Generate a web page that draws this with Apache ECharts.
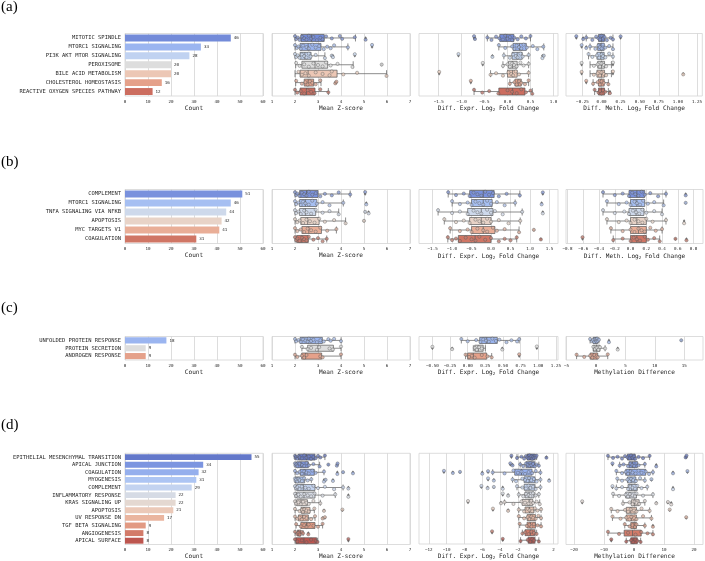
<!DOCTYPE html>
<html>
<head>
<meta charset="utf-8">
<script src="https://cdn.jsdelivr.net/npm/echarts@6/dist/echarts.min.js"></script>
<style>
  html, body { margin: 0; padding: 0; background: #fff; }
  #chart { width: 705px; height: 561px; }
</style>
</head>
<body>
<div id="chart"></div>
<script>
// ---------- panel (a) ----------
const catsA = ["MITOTIC SPINDLE", "MTORC1 SIGNALING", "PI3K AKT MTOR SIGNALING", "PEROXISOME",
  "BILE ACID METABOLISM", "CHOLESTEROL HOMEOSTASIS", "REACTIVE OXYGEN SPECIES PATHWAY"];
const countsA = [46, 33, 28, 20, 20, 16, 12];
const zBoxA = [[2.0, 2.26, 2.72, 3.27, 4.63], [2.0, 2.22, 2.57, 3.13, 4.3], [2.0, 2.22, 2.43, 2.7, 3.3],
  [2.03, 2.3, 2.87, 3.42, 4.53], [2.0, 2.22, 2.57, 3.83, 5.98], [2.03, 2.4, 2.57, 2.81, 3.13], [2.0, 2.22, 2.5, 2.87, 3.45]];
const zOutA = [[5.07], [5.35], [3.6, 3.65, 4.6], [5.77], [], [3.75, 3.8], []];
const zPtsA = [
  [2.0, 2.05, 2.12, 2.2, 2.3, 2.4, 2.5, 2.6, 2.7, 2.8, 2.95, 3.1, 3.2, 3.35, 3.6, 3.95, 4.05, 4.6, 5.07],
  [2.0, 2.08, 2.15, 2.25, 2.35, 2.5, 2.6, 2.75, 2.9, 3.05, 3.25, 3.4, 3.55, 3.7, 4.3, 5.35],
  [2.0, 2.05, 2.12, 2.2, 2.3, 2.4, 2.5, 2.6, 2.68, 2.9, 3.3, 3.6, 3.65, 4.6],
  [2.05, 2.2, 2.4, 2.6, 2.8, 3.0, 3.2, 3.35, 3.55, 3.85, 4.5, 5.77],
  [2.15, 2.3, 2.45, 2.6, 2.9, 3.2, 3.5, 3.6, 4.1, 4.7, 5.98],
  [2.05, 2.3, 2.45, 2.55, 2.65, 2.75, 2.9, 3.1, 3.75, 3.8],
  [2.0, 2.1, 2.25, 2.4, 2.55, 2.7, 2.85, 3.1, 3.45]];
const exBoxA = [[-0.44, -0.17, -0.03, 0.14, 0.5], [-0.19, 0.12, 0.26, 0.41, 0.79], [-0.08, 0.1, 0.21, 0.32, 0.46],
  [-0.1, 0.02, 0.11, 0.21, 0.46], [-0.37, 0.0, 0.11, 0.21, 0.46], [0.05, 0.16, 0.23, 0.3, 0.46], [-0.73, -0.19, 0.11, 0.38, 0.54]];
const exOutA = [[-0.73, -0.71], [], [-1.07, -0.33, 0.76, 0.79], [-0.54], [-1.49], [-0.8], []];
const exPtsA = [
  [-0.73, -0.71, -0.44, -0.35, -0.25, -0.18, -0.1, -0.05, 0.0, 0.05, 0.1, 0.15, 0.22, 0.3, 0.4, 0.5],
  [-0.19, -0.05, 0.1, 0.15, 0.2, 0.25, 0.3, 0.35, 0.42, 0.55, 0.65, 0.78],
  [-1.07, -0.33, -0.08, 0.05, 0.12, 0.18, 0.22, 0.28, 0.33, 0.46, 0.76, 0.79],
  [-0.54, -0.1, 0.0, 0.05, 0.1, 0.14, 0.2, 0.28, 0.35, 0.46],
  [-1.49, -0.37, -0.25, -0.1, 0.02, 0.08, 0.12, 0.18, 0.25, 0.46],
  [-0.8, 0.05, 0.15, 0.2, 0.25, 0.3, 0.38, 0.46],
  [-0.73, -0.55, -0.4, -0.2, 0.0, 0.1, 0.2, 0.3, 0.4, 0.5, 0.54]];
const meBoxA = [[-0.2, -0.04, 0.0, 0.04, 0.15], [-0.15, -0.05, -0.01, 0.035, 0.15], [-0.17, -0.06, -0.01, 0.035, 0.15],
  [-0.15, -0.05, 0.0, 0.04, 0.13], [-0.15, -0.06, 0.0, 0.04, 0.13], [-0.11, -0.04, -0.01, 0.035, 0.09], [-0.09, -0.04, 0.0, 0.04, 0.09]];
const meOutA = [[-0.33, -0.24, 0.25], [-0.26, -0.2], [], [-0.26, 0.15], [-0.26, 0.15, 1.07], [-0.2], [0.11]];
const mePtsA = [
  [-0.33, -0.24, -0.2, -0.12, -0.07, -0.04, -0.02, 0.0, 0.02, 0.04, 0.07, 0.12, 0.15, 0.25],
  [-0.26, -0.2, -0.15, -0.08, -0.04, -0.02, 0.0, 0.02, 0.05, 0.1, 0.15],
  [-0.17, -0.12, -0.06, -0.03, 0.0, 0.02, 0.05, 0.1, 0.15],
  [-0.26, -0.1, -0.05, -0.02, 0.0, 0.03, 0.06, 0.15],
  [-0.26, -0.1, -0.05, -0.02, 0.0, 0.03, 0.06, 0.15, 1.07],
  [-0.2, -0.11, -0.05, -0.02, 0.0, 0.03, 0.09],
  [-0.09, -0.04, -0.02, 0.0, 0.02, 0.05, 0.11]];
const exTicksA = [-1.5, -1.0, -0.5, 0.0, 0.5, 1.0];
const meTicksA = [-0.25, 0.0, 0.25, 0.5, 0.75, 1.0, 1.25];

// ---------- panel (b) ----------
const catsB = ["COMPLEMENT", "MTORC1 SIGNALING", "TNFA SIGNALING VIA NFKB", "APOPTOSIS", "MYC TARGETS V1", "COAGULATION"];
const countsB = [51, 46, 44, 42, 41, 31];
const zBoxB = [[2.0, 2.2, 2.5, 3.0, 4.4], [2.0, 2.2, 2.45, 2.95, 4.1], [2.0, 2.2, 2.45, 2.9, 3.9],
  [2.0, 2.25, 2.55, 3.05, 4.2], [2.0, 2.3, 2.6, 3.15, 3.8], [2.0, 2.07, 2.3, 2.58, 3.38]];
const zOutB = [[5.05], [5.1], [5.05, 5.2], [5.0], [], []];
const zPtsB = [
  [2.0, 2.05, 2.1, 2.2, 2.3, 2.4, 2.5, 2.6, 2.75, 2.9, 3.1, 3.3, 3.6, 3.9, 4.4, 5.05],
  [2.0, 2.05, 2.15, 2.25, 2.35, 2.45, 2.6, 2.75, 2.95, 3.2, 3.5, 4.1, 5.1],
  [2.0, 2.05, 2.15, 2.25, 2.4, 2.5, 2.7, 2.9, 3.2, 3.5, 3.9, 5.05, 5.2],
  [2.0, 2.1, 2.2, 2.35, 2.5, 2.65, 2.85, 3.05, 3.3, 3.7, 4.2, 5.0],
  [2.0, 2.1, 2.25, 2.4, 2.55, 2.7, 2.9, 3.1, 3.4, 3.8],
  [2.0, 2.05, 2.1, 2.2, 2.3, 2.4, 2.5, 2.6, 2.8, 3.0, 3.2, 3.38]];
const exBoxB = [[-1.1, -0.55, -0.2, 0.08, 0.74], [-1.0, -0.5, -0.2, 0.03, 0.62], [-1.36, -0.6, -0.25, 0.05, 0.8],
  [-1.2, -0.55, -0.25, 0.0, 0.75], [-1.05, -0.5, -0.2, 0.1, 0.72], [-1.11, -0.84, -0.41, 0.0, 0.66]];
const exOutB = [[1.33], [1.3], [1.33], [], [1.1], [1.28]];
const exPtsB = [
  [-1.1, -0.9, -0.7, -0.55, -0.45, -0.35, -0.25, -0.15, -0.05, 0.05, 0.2, 0.4, 0.74, 1.33],
  [-1.0, -0.8, -0.6, -0.5, -0.4, -0.3, -0.2, -0.1, 0.0, 0.15, 0.35, 0.62, 1.3],
  [-1.36, -1.0, -0.8, -0.6, -0.45, -0.35, -0.25, -0.1, 0.0, 0.1, 0.3, 0.8, 1.33],
  [-1.2, -0.9, -0.7, -0.55, -0.4, -0.3, -0.2, -0.1, 0.0, 0.2, 0.45, 0.75],
  [-1.05, -0.8, -0.6, -0.5, -0.35, -0.2, -0.1, 0.05, 0.15, 0.35, 0.72, 1.1],
  [-1.11, -1.0, -0.9, -0.8, -0.65, -0.5, -0.4, -0.3, -0.15, 0.0, 0.2, 0.35, 0.5, 0.66, 1.28]];
const meBoxB = [[-0.35, -0.02, 0.08, 0.18, 0.45], [-0.3, 0.0, 0.08, 0.18, 0.42], [-0.35, -0.02, 0.07, 0.17, 0.4],
  [-0.3, 0.0, 0.08, 0.2, 0.45], [-0.25, 0.0, 0.1, 0.2, 0.4], [-0.22, 0.0, 0.08, 0.2, 0.37]];
const meOutB = [[0.7], [0.7], [], [0.68], [], [-0.61, 0.57, 0.71]];
const mePtsB = [
  [-0.35, -0.2, -0.1, -0.02, 0.02, 0.06, 0.1, 0.14, 0.18, 0.25, 0.35, 0.45, 0.7],
  [-0.3, -0.15, -0.05, 0.0, 0.05, 0.08, 0.12, 0.16, 0.22, 0.3, 0.42, 0.7],
  [-0.35, -0.2, -0.08, -0.02, 0.03, 0.07, 0.11, 0.15, 0.2, 0.3, 0.4],
  [-0.3, -0.15, -0.05, 0.0, 0.05, 0.1, 0.15, 0.2, 0.28, 0.45, 0.68],
  [-0.25, -0.1, 0.0, 0.05, 0.1, 0.14, 0.18, 0.25, 0.32, 0.4],
  [-0.61, -0.22, -0.1, 0.0, 0.04, 0.08, 0.12, 0.18, 0.22, 0.3, 0.37, 0.57, 0.71]];
const exTicksB = [-1.5, -1.0, -0.5, 0.0, 0.5, 1.0, 1.5];
const meTicksB = [-0.8, -0.6, -0.4, -0.2, 0.0, 0.2, 0.4, 0.6, 0.8];

// ---------- panel (c) ----------
const catsC = ["UNFOLDED PROTEIN RESPONSE", "PROTEIN SECRETION", "ANDROGEN RESPONSE"];
const countsC = [18, 9, 9];
const zBoxC = [[2.0, 2.22, 2.57, 3.19, 4.0], [2.3, 2.55, 3.0, 3.67, 4.0], [2.0, 2.29, 2.46, 3.16, 4.0]];
const zOutC = [[], [], []];
const zPtsC = [
  [2.0, 2.05, 2.15, 2.25, 2.35, 2.45, 2.55, 2.6, 2.7, 2.8, 2.95, 3.1, 3.25, 3.45, 3.55, 3.7, 4.0],
  [2.3, 2.55, 2.7, 2.95, 3.05, 3.5, 3.65, 4.0],
  [2.0, 2.1, 2.3, 2.4, 2.5, 3.1, 3.2, 4.0]];
const exBoxC = [[-0.09, 0.17, 0.27, 0.42, 0.73], [0.08, 0.1, 0.15, 0.22, 0.25], [-0.03, 0.0, 0.08, 0.27, 0.34]];
const exOutC = [[], [-0.5, -0.22, 0.49, 0.98], [0.73]];
const exPtsC = [
  [-0.09, 0.0, 0.12, 0.18, 0.22, 0.26, 0.3, 0.35, 0.4, 0.45, 0.55, 0.62, 0.7, 0.73],
  [-0.5, -0.22, 0.1, 0.13, 0.16, 0.2, 0.49, 0.98],
  [-0.03, 0.02, 0.06, 0.1, 0.2, 0.28, 0.34, 0.73]];
const meBoxC = [[-1.0, -0.5, -0.1, 0.3, 0.5], [-0.45, -0.45, 0.1, 0.68, 1.55], [-3.3, -1.0, -0.45, 0.3, 2.0]];
const meOutC = [[2.2, 14.5], [3.7], []];
const mePtsC = [
  [-1.0, -0.7, -0.5, -0.3, -0.1, 0.0, 0.1, 0.2, 0.3, 0.5, 2.2, 14.5],
  [-0.45, -0.2, 0.1, 0.4, 0.68, 1.55, 3.7],
  [-3.3, -2.0, -1.0, -0.6, -0.3, 0.1, 0.3, 2.0]];
const exTicksC = [-0.5, -0.25, 0.0, 0.25, 0.5, 0.75, 1.0, 1.25];
const meTicksC = [-5, 0, 5, 10, 15];

// ---------- panel (d) ----------
const catsD = ["EPITHELIAL MESENCHYMAL TRANSITION", "APICAL JUNCTION", "COAGULATION", "MYOGENESIS", "COMPLEMENT",
  "INFLAMMATORY RESPONSE", "KRAS SIGNALING UP", "APOPTOSIS", "UV RESPONSE DN", "TGF BETA SIGNALING",
  "ANGIOGENESIS", "APICAL SURFACE"];
const countsD = [55, 34, 32, 31, 29, 22, 22, 21, 17, 9, 8, 8];
const zBoxD = [[2.0, 2.15, 2.5, 2.87, 3.3], [2.0, 2.07, 2.26, 2.58, 3.07], [2.0, 2.22, 2.43, 2.84, 3.26],
  [2.0, 2.01, 2.13, 2.42, 2.71], [2.0, 2.07, 2.36, 2.87, 4.09], [2.0, 2.07, 2.39, 2.87, 3.75],
  [2.0, 2.07, 2.26, 2.54, 3.1], [2.0, 2.26, 2.39, 2.65, 2.84], [2.0, 2.15, 2.32, 2.58, 2.87],
  [2.05, 2.25, 2.5, 2.87, 3.2], [2.0, 2.1, 2.15, 2.26, 2.35], [2.0, 2.04, 2.39, 2.94, 2.98]];
const zOutD = [[], [3.45, 3.82, 3.85], [3.84, 4.09, 4.52], [3.26, 3.33, 3.65], [4.32], [4.32], [], [3.26, 4.06],
  [3.2, 3.3], [], [2.58], [4.32]];
const zPtsD = [
  [2.0, 2.02, 2.05, 2.1, 2.15, 2.2, 2.3, 2.4, 2.5, 2.6, 2.7, 2.8, 2.9, 3.0, 3.1, 3.3],
  [2.0, 2.02, 2.06, 2.1, 2.2, 2.3, 2.4, 2.5, 2.6, 2.8, 3.07, 3.45, 3.82, 3.85],
  [2.0, 2.1, 2.2, 2.3, 2.4, 2.5, 2.6, 2.75, 2.9, 3.26, 3.84, 4.09, 4.52],
  [2.0, 2.02, 2.05, 2.1, 2.15, 2.2, 2.3, 2.4, 2.55, 2.71, 3.26, 3.33, 3.65],
  [2.0, 2.05, 2.1, 2.2, 2.3, 2.45, 2.6, 2.8, 3.0, 3.3, 3.7, 4.09, 4.32],
  [2.0, 2.05, 2.15, 2.25, 2.4, 2.55, 2.7, 2.85, 3.2, 3.75, 4.32],
  [2.0, 2.05, 2.15, 2.25, 2.35, 2.5, 2.6, 2.8, 3.1],
  [2.0, 2.2, 2.3, 2.35, 2.4, 2.5, 2.6, 2.84, 3.26, 4.06],
  [2.0, 2.1, 2.2, 2.3, 2.4, 2.5, 2.7, 2.87, 3.2, 3.3],
  [2.05, 2.25, 2.4, 2.5, 2.6, 2.8, 3.0, 3.2],
  [2.0, 2.1, 2.15, 2.2, 2.3, 2.35, 2.58],
  [2.0, 2.1, 2.3, 2.5, 2.7, 2.9, 2.98, 4.32]];
const exBoxD = [[-2.1, -0.97, -0.6, -0.11, 0.1], [-1.74, -1.1, -0.6, -0.1, 0.35], [-4.83, -2.36, -1.6, -0.41, 0.53],
  [-2.6, -1.3, -0.75, -0.1, 0.53], [-2.1, -1.3, -0.75, -0.1, 0.53], [-1.9, -1.2, -0.75, -0.2, 0.35],
  [-3.5, -1.53, -0.75, -0.34, 0.45], [-1.9, -1.2, -0.7, -0.2, 0.6], [-1.9, -0.97, -0.6, -0.04, 0.6],
  [-1.8, -0.97, -0.6, -0.04, 0.6], [-1.5, -1.2, -0.6, -0.1, 0.1], [-1.7, -0.86, -0.45, -0.1, 0.35]];
const exOutD = [[-2.73, 1.2], [-2.85, -2.6], [-10.3, -9.3, -8.5, -6.0, -5.35], [-5.35, -4.7, 1.5],
  [-6.1, -5.4, -4.7, -3.7], [-3.7, -3.1], [-7.6, -3.9], [-4.8, -3.1], [], [], [-4.9], [-3.7]];
const exPtsD = [
  [-2.73, -2.1, -1.6, -1.3, -1.1, -0.95, -0.8, -0.7, -0.6, -0.5, -0.4, -0.3, -0.2, -0.1, 0.0, 0.1, 1.2],
  [-2.85, -2.6, -1.74, -1.4, -1.1, -0.9, -0.7, -0.6, -0.5, -0.3, -0.1, 0.1, 0.35],
  [-10.3, -9.3, -8.5, -6.0, -5.35, -4.83, -3.5, -2.5, -2.0, -1.6, -1.2, -0.8, -0.4, 0.0, 0.53],
  [-5.35, -4.7, -2.6, -2.2, -1.5, -1.2, -0.9, -0.75, -0.5, -0.2, 0.1, 0.53, 1.5],
  [-6.1, -5.4, -4.7, -3.7, -2.1, -1.5, -1.1, -0.8, -0.6, -0.3, 0.0, 0.53],
  [-3.7, -3.1, -1.9, -1.4, -1.1, -0.8, -0.6, -0.3, 0.0, 0.35],
  [-7.6, -3.9, -3.5, -2.5, -1.6, -1.2, -0.8, -0.5, -0.3, 0.1, 0.45],
  [-4.8, -3.1, -1.9, -1.3, -0.9, -0.7, -0.4, -0.1, 0.2, 0.6],
  [-1.9, -1.3, -0.9, -0.7, -0.5, -0.3, 0.0, 0.3, 0.6],
  [-1.8, -1.0, -0.7, -0.5, -0.2, 0.2, 0.6],
  [-4.9, -1.5, -1.2, -0.8, -0.5, -0.2, 0.1],
  [-3.7, -1.7, -0.9, -0.6, -0.4, -0.2, 0.35]];
const meBoxD = [[-8.7, -2.2, -0.9, 0.4, 5.2], [-4.8, -1.7, -0.5, 1.1, 3.6], [-5.9, -2.8, -1.4, 3.9, 6.3],
  [-5.6, -2.2, -1.0, 0.6, 3.6], [-5.9, -2.0, -0.8, 1.1, 4.4], [-7.0, -2.8, -1.4, 0.8, 6.3],
  [-3.7, -0.9, 0.2, 1.7, 3.6], [-7.6, -2.6, -1.1, 0.8, 5.2], [-7.2, -2.6, -0.9, 0.8, 5.8],
  [-3.1, -1.1, 0.0, 0.8, 3.6], [-8.7, -3.3, -0.5, 2.4, 6.3], [-2.6, -1.1, -0.3, 1.1, 2.2]];
const meOutD = [[17.2, 17.5], [-7.2, 7.4], [13.0, 17.8], [5.8], [-7.2, 13.0], [], [-17.3, 7.4, 11.3, 12.4],
  [11.9], [17.4], [6.3], [], [-7.6]];
const mePtsD = [
  [-8.7, -7.0, -5.5, -4.0, -3.0, -2.2, -1.5, -1.0, -0.5, 0.0, 0.4, 1.5, 3.0, 5.2, 17.2, 17.5],
  [-7.2, -4.8, -3.5, -2.0, -1.2, -0.6, 0.0, 0.8, 1.5, 3.6, 7.4],
  [-5.9, -4.0, -2.8, -2.0, -1.2, -0.5, 0.5, 1.5, 2.5, 3.9, 5.0, 6.3, 13.0, 17.8],
  [-5.6, -4.0, -2.2, -1.5, -1.0, -0.3, 0.6, 2.0, 3.6, 5.8],
  [-7.2, -5.9, -4.0, -2.0, -1.2, -0.5, 0.3, 1.1, 2.5, 4.4, 13.0],
  [-7.0, -5.0, -2.8, -2.0, -1.4, -0.5, 0.3, 0.8, 3.0, 6.3],
  [-17.3, -3.7, -1.5, -0.5, 0.2, 0.8, 1.7, 3.6, 7.4, 11.3, 12.4],
  [-7.6, -5.5, -3.0, -2.0, -1.1, 0.0, 0.8, 2.5, 5.2, 11.9],
  [-7.2, -4.5, -2.6, -1.5, -0.9, 0.0, 0.8, 3.0, 5.8, 17.4],
  [-3.1, -1.5, -0.5, 0.3, 0.8, 3.6, 6.3],
  [-8.7, -5.0, -2.0, 0.5, 2.4, 4.5, 6.3],
  [-7.6, -2.6, -1.0, -0.3, 0.5, 1.1, 2.2]];
const exTicksD = [-12, -10, -8, -6, -4, -2, 0, 2];
const meTicksD = [-20, -10, 0, 10, 20];

const zTicks = [1, 2, 3, 4, 5, 6, 7];
const panelLabels = ["(a)", "(b)", "(c)", "(d)"];

// ---------- styling / layout ----------
const MONO = "DejaVu Sans Mono";
const TXT = "#262626";
const GRIDC = "#d4d4d4";
const EDGE = "#5a5a5a";
// strip jitter offsets (fraction of a row)
const JIT = [-0.2, 0.12, -0.05, 0.22, -0.15, 0.03, 0.18, -0.25, 0.08, -0.1, 0.25, -0.02, 0.15, -0.18, 0.05, -0.22, 0.1, -0.08, 0.2];

// matplotlib coolwarm lookup (33 steps)
const CW = [[59,76,192],[68,90,204],[77,104,215],[87,117,225],[98,130,234],[108,142,241],[119,154,247],
  [130,165,251],[141,176,254],[152,185,255],[163,194,255],[174,201,253],[184,208,249],[194,213,244],
  [204,217,238],[213,219,230],[221,221,221],[229,216,209],[236,211,197],[241,204,184],[245,196,172],
  [247,187,160],[247,177,148],[247,166,135],[244,154,123],[241,141,111],[236,127,99],[229,112,88],
  [222,96,77],[213,80,66],[203,62,56],[192,40,47],[180,4,38]];

function coolwarm(t) {
  const p = t * 32, i = Math.min(31, Math.floor(p)), f = p - i;
  return CW[i].map((v, k) => v + (CW[i + 1][k] - v) * f);
}
function rgb(c) {
  return "rgb(" + c.map((v) => Math.round(v)).join(",") + ")";
}
function desat(c, s) {
  const l = (Math.max(...c) + Math.min(...c)) / 2;
  return c.map((v) => l + (v - l) * s);
}
function palette(n) {
  const out = [];
  for (let i = 1; i <= n; i++) out.push(coolwarm(i / (n + 1)));
  return out;
}
function fmt(dec) {
  return function (v) {
    const s = Math.abs(v).toFixed(dec);
    return (v < -1e-9 ? "\u2212" : "") + s;
  };
}

const panels = [
  { cats: catsA, counts: countsA, top: 33.5, bottom: 96, labelTop: 0,
    z: [zBoxA, zOutA, zPtsA], ex: [exBoxA, exOutA, exPtsA], me: [meBoxA, meOutA, mePtsA],
    exAx: { min: -1.93, max: 1.1, ticks: exTicksA, dec: 1 },
    meAx: { min: -0.465, max: 1.32, ticks: meTicksA, dec: 2 },
    meName: "Diff. Meth. Log{sub|2} Fold Change" },
  { cats: catsB, counts: countsB, top: 189.5, bottom: 243.5, labelTop: 155,
    z: [zBoxB, zOutB, zPtsB], ex: [exBoxB, exOutB, exPtsB], me: [meBoxB, meOutB, mePtsB],
    exAx: { min: -1.85, max: 1.72, ticks: exTicksB, dec: 1 },
    meAx: { min: -0.82, max: 0.92, ticks: meTicksB, dec: 1 },
    meName: "Diff. Meth. Log{sub|2} Fold Change" },
  { cats: catsC, counts: countsC, top: 336.5, bottom: 360, labelTop: 301,
    z: [zBoxC, zOutC, zPtsC], ex: [exBoxC, exOutC, exPtsC], me: [meBoxC, meOutC, mePtsC],
    exAx: { min: -0.69, max: 1.28, ticks: exTicksC, dec: 2 },
    meAx: { min: -5.1, max: 18.2, ticks: meTicksC, dec: 0 },
    meName: "Methylation Difference" },
  { cats: catsD, counts: countsD, top: 453.3, bottom: 544.5, labelTop: 418,
    z: [zBoxD, zOutD, zPtsD], ex: [exBoxD, exOutD, exPtsD], me: [meBoxD, meOutD, mePtsD],
    exAx: { min: -13.1, max: 2.5, ticks: exTicksD, dec: 0 },
    meAx: { min: -22.7, max: 23, ticks: meTicksD, dec: 0 },
    meName: "Methylation Difference" },
];

const BOXX = [[272, 410], [419, 558], [566, 703]];

const grids = [], xAxes = [], yAxes = [], series = [], graphics = [];

const nameStyle = {
  fontSize: 6.1, fontFamily: MONO, color: TXT,
  rich: { sub: { fontSize: 4.2, fontFamily: MONO, color: TXT, padding: [3, 0, 0, 0] } },
};
const tickLabel = (ticks, dec) => ({
  customValues: ticks, formatter: fmt(dec), fontSize: 4.2, fontFamily: MONO, color: TXT, margin: 3.5,
});

function addGrid(l, r, top, bottom) {
  grids.push({ left: l, top: top, width: r - l, height: bottom - top, show: true,
    borderColor: GRIDC, borderWidth: 0.8, backgroundColor: "#fff" });
  return grids.length - 1;
}

panels.forEach(function (P, pi) {
  const n = P.cats.length;
  const rowH = (P.bottom - P.top) / n;
  const pal = palette(n);
  const fill = pal.map((c) => rgb(desat(c, 0.75)));
  const dots = pal.map((c) => rgb(desat(c, 0.55)));

  graphics.push({ type: "text", left: 1, top: P.labelTop,
    style: { text: panelLabels[pi], font: "15px 'Liberation Serif'", fill: "#000" } });

  // bar chart of counts
  const g = addGrid(125, 263, P.top, P.bottom);
  xAxes.push({ gridIndex: g, type: "value", min: 0, max: 60, interval: 10,
    axisLine: { show: false }, axisTick: { show: false },
    axisLabel: { fontSize: 4.2, fontFamily: MONO, color: TXT, margin: 3.5 },
    splitLine: { show: true, lineStyle: { color: GRIDC, width: 0.8 } },
    name: "Count", nameLocation: "middle", nameGap: 9, nameTextStyle: nameStyle });
  yAxes.push({ gridIndex: g, type: "category", inverse: true, data: P.cats,
    axisLine: { show: false }, axisTick: { show: false },
    axisLabel: { fontSize: 5.45, fontFamily: MONO, color: TXT, margin: 4 } });
  series.push({ type: "bar", xAxisIndex: xAxes.length - 1, yAxisIndex: yAxes.length - 1,
    barCategoryGap: "22%",
    data: P.counts.map((v, i) => ({ value: v, itemStyle: { color: fill[i] } })),
    label: { show: true, position: "right", distance: 3, fontSize: 4.2, fontFamily: MONO, color: TXT } });

  // three box + strip panels
  const metrics = [
    { d: P.z, ax: { min: 1, max: 7, ticks: zTicks, dec: 0 }, name: "Mean Z-score" },
    { d: P.ex, ax: P.exAx, name: "Diff. Expr. Log{sub|2} Fold Change" },
    { d: P.me, ax: P.meAx, name: P.meName },
  ];
  metrics.forEach(function (M, mi) {
    const gi = addGrid(BOXX[mi][0], BOXX[mi][1], P.top, P.bottom);
    xAxes.push({ gridIndex: gi, type: "value", min: M.ax.min, max: M.ax.max,
      axisLine: { show: false },
      axisTick: { show: false, customValues: M.ax.ticks },
      axisLabel: tickLabel(M.ax.ticks, M.ax.dec),
      splitLine: { show: true, lineStyle: { color: GRIDC, width: 0.8 } },
      name: M.name, nameLocation: "middle", nameGap: 9, nameTextStyle: nameStyle });
    const xi = xAxes.length - 1;
    yAxes.push({ gridIndex: gi, type: "category", inverse: true, data: P.cats, show: false });
    const yc = yAxes.length - 1;
    yAxes.push({ gridIndex: gi, type: "value", inverse: true, min: -0.5, max: n - 0.5, show: false });
    const yv = yAxes.length - 1;
    const bw = rowH * 0.78;

    series.push({ type: "boxplot", xAxisIndex: xi, yAxisIndex: yc, boxWidth: [bw, bw],
      data: M.d[0].map((b, i) => ({ value: b,
        itemStyle: { color: fill[i], borderColor: EDGE, borderWidth: 0.7 } })) });

    const outs = [];
    M.d[1].forEach((arr, i) => arr.forEach((v) => outs.push([v, i])));
    series.push({ type: "scatter", xAxisIndex: xi, yAxisIndex: yv, symbol: "diamond",
      symbolSize: [2.6, 3.6], itemStyle: { color: "#505050" }, data: outs });

    const pts = [];
    M.d[2].forEach((arr, i) => arr.forEach((v, j) => pts.push({
      value: [v, i + JIT[j % JIT.length] * (rowH > 8 ? 1 : 0.9)],
      itemStyle: { color: dots[i] } })));
    series.push({ type: "scatter", xAxisIndex: xi, yAxisIndex: yv, symbolSize: 3.2,
      itemStyle: { opacity: 0.8, borderColor: "#555", borderWidth: 0.5 }, data: pts });
  });
});

const chart = echarts.init(document.getElementById("chart"));
chart.setOption({
  animation: false,
  backgroundColor: "#fff",
  textStyle: { fontFamily: MONO },
  grid: grids,
  xAxis: xAxes,
  yAxis: yAxes,
  series: series,
  graphic: graphics,
});
</script>
</body>
</html>
